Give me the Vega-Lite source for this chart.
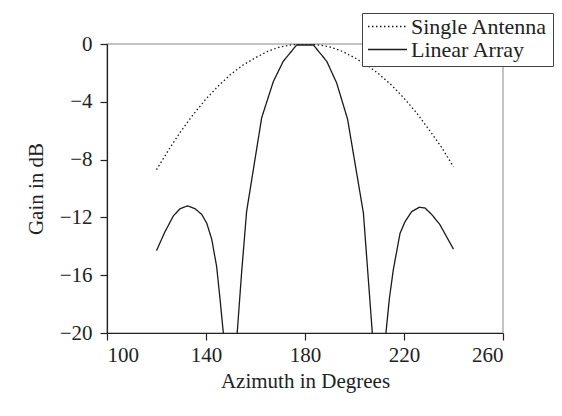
{
  "$schema": "https://vega.github.io/schema/vega-lite/v6.json",
  "width": 396,
  "height": 289,
  "autosize": {"type": "none"},
  "padding": {"left": 107, "top": 44, "right": 59, "bottom": 83},
  "background": "white",
  "config": {
    "font": "Liberation Serif",
    "view": {"stroke": "#b0b0b0", "strokeWidth": 1.5},
    "axis": {
      "domainColor": "#222",
      "tickColor": "#222",
      "domainWidth": 1.2,
      "tickWidth": 1.2,
      "tickSize": 7,
      "labelFont": "Liberation Serif",
      "labelFontSize": 21,
      "labelColor": "#222",
      "titleFont": "Liberation Serif",
      "titleFontSize": 21,
      "titleFontWeight": "normal",
      "titleColor": "#222",
      "grid": false
    }
  },
  "data": {
    "values": [
      {"series": "Single Antenna", "az": 120, "gain": -8.7},
      {"series": "Single Antenna", "az": 125, "gain": -7.3},
      {"series": "Single Antenna", "az": 130, "gain": -6.0},
      {"series": "Single Antenna", "az": 135, "gain": -4.85},
      {"series": "Single Antenna", "az": 140, "gain": -3.8},
      {"series": "Single Antenna", "az": 145, "gain": -2.9},
      {"series": "Single Antenna", "az": 150, "gain": -2.1},
      {"series": "Single Antenna", "az": 155, "gain": -1.45},
      {"series": "Single Antenna", "az": 160, "gain": -0.95},
      {"series": "Single Antenna", "az": 165, "gain": -0.5},
      {"series": "Single Antenna", "az": 170, "gain": -0.2},
      {"series": "Single Antenna", "az": 175, "gain": -0.05},
      {"series": "Single Antenna", "az": 180, "gain": 0},
      {"series": "Single Antenna", "az": 185, "gain": -0.05},
      {"series": "Single Antenna", "az": 190, "gain": -0.2},
      {"series": "Single Antenna", "az": 195, "gain": -0.5},
      {"series": "Single Antenna", "az": 200, "gain": -0.95},
      {"series": "Single Antenna", "az": 205, "gain": -1.45},
      {"series": "Single Antenna", "az": 210, "gain": -2.1},
      {"series": "Single Antenna", "az": 215, "gain": -2.85},
      {"series": "Single Antenna", "az": 220, "gain": -3.75},
      {"series": "Single Antenna", "az": 225, "gain": -4.75},
      {"series": "Single Antenna", "az": 230, "gain": -5.9},
      {"series": "Single Antenna", "az": 235, "gain": -7.1},
      {"series": "Single Antenna", "az": 240, "gain": -8.5},
      {"series": "Linear Array", "az": 120, "gain": -14.3},
      {"series": "Linear Array", "az": 123.4, "gain": -13.0},
      {"series": "Linear Array", "az": 126.8, "gain": -11.9},
      {"series": "Linear Array", "az": 129.5, "gain": -11.4},
      {"series": "Linear Array", "az": 132.6, "gain": -11.2},
      {"series": "Linear Array", "az": 135.6, "gain": -11.4},
      {"series": "Linear Array", "az": 138.3, "gain": -11.8},
      {"series": "Linear Array", "az": 140.3, "gain": -12.4},
      {"series": "Linear Array", "az": 142.3, "gain": -13.5},
      {"series": "Linear Array", "az": 144.3, "gain": -15.4},
      {"series": "Linear Array", "az": 145.7, "gain": -17.7},
      {"series": "Linear Array", "az": 147.0, "gain": -20},
      {"series": "Linear Array", "az": 150, "gain": -40},
      {"series": "Linear Array", "az": 152.6, "gain": -20},
      {"series": "Linear Array", "az": 154.4, "gain": -15.8},
      {"series": "Linear Array", "az": 156.4, "gain": -11.6},
      {"series": "Linear Array", "az": 162.5, "gain": -5.1},
      {"series": "Linear Array", "az": 167.2, "gain": -2.6},
      {"series": "Linear Array", "az": 171.2, "gain": -1.2},
      {"series": "Linear Array", "az": 176.6, "gain": -0.07},
      {"series": "Linear Array", "az": 183.4, "gain": -0.07},
      {"series": "Linear Array", "az": 188.8, "gain": -1.2},
      {"series": "Linear Array", "az": 192.8, "gain": -2.7},
      {"series": "Linear Array", "az": 197.2, "gain": -5.2},
      {"series": "Linear Array", "az": 203.6, "gain": -11.7},
      {"series": "Linear Array", "az": 207.2, "gain": -20},
      {"series": "Linear Array", "az": 210, "gain": -40},
      {"series": "Linear Array", "az": 212.7, "gain": -20},
      {"series": "Linear Array", "az": 214.1, "gain": -17.6},
      {"series": "Linear Array", "az": 215.7, "gain": -15.6},
      {"series": "Linear Array", "az": 218.4, "gain": -13.1},
      {"series": "Linear Array", "az": 220.4, "gain": -12.3},
      {"series": "Linear Array", "az": 223.1, "gain": -11.6},
      {"series": "Linear Array", "az": 226.2, "gain": -11.3},
      {"series": "Linear Array", "az": 228.5, "gain": -11.35},
      {"series": "Linear Array", "az": 231.2, "gain": -11.8},
      {"series": "Linear Array", "az": 234.5, "gain": -12.5},
      {"series": "Linear Array", "az": 240, "gain": -14.2}
    ]
  },
  "mark": {"type": "line", "clip": true, "strokeWidth": 1.3, "color": "#1a1a1a"},
  "encoding": {
    "x": {
      "field": "az", "type": "quantitative",
      "scale": {"domain": [100, 260], "nice": false, "zero": false},
      "axis": {"values": [100, 140, 180, 220, 260], "title": "Azimuth in Degrees", "labelPadding": 4, "titlePadding": 5}
    },
    "y": {
      "field": "gain", "type": "quantitative",
      "scale": {"domain": [-20, 0], "nice": false, "zero": false},
      "axis": {"values": [0, -4, -8, -12, -16, -20], "title": "Gain in dB", "labelPadding": 8, "titlePadding": 13}
    },
    "detail": {"field": "series"},
    "strokeDash": {
      "field": "series", "type": "nominal",
      "scale": {"domain": ["Single Antenna", "Linear Array"], "range": [[1.5, 2.5], [1, 0]]},
      "legend": {
        "title": null,
        "orient": "none",
        "legendX": 255,
        "legendY": -31,
        "padding": 5,
        "strokeColor": "#444",
        "fillColor": "white",
        "labelFont": "Liberation Serif",
        "labelFontSize": 22,
        "labelColor": "#222",
        "labelOffset": 3,
        "symbolType": "stroke",
        "symbolSize": 1521,
        "symbolStrokeWidth": 1.4,
        "symbolStrokeColor": "#1a1a1a",
        "clipHeight": 17,
        "rowPadding": 0
      }
    }
  }
}
